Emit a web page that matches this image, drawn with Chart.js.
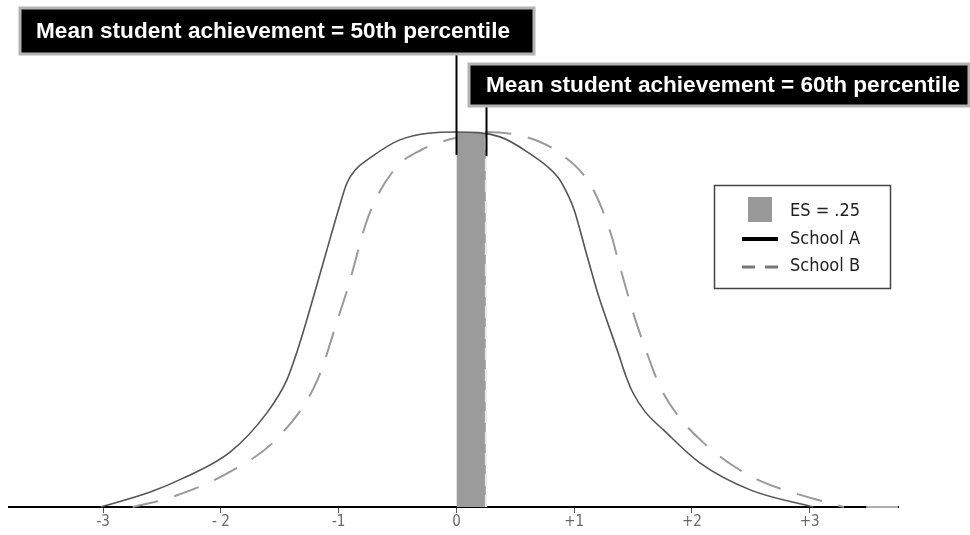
<!DOCTYPE html>
<html>
<head>
<meta charset="utf-8">
<script src="https://cdn.jsdelivr.net/npm/chart.js@4.4.1/dist/chart.umd.min.js"></script>
<style>
    html, body { margin: 0; padding: 0; background: #fff; }
</style>
</head>
<body>
<canvas id="myChart" width="970" height="535"></canvas>
<script>
// School A curve (solid), height, peak = 100
var schoolAx = [-3.02, -2.60, -2.32, -1.92, -1.61, -1.44, -1.35, -1.27, -1.18, -1.10, -1.01, -0.93, -0.85, -0.76, -0.48, 0,
                0.37, 0.60, 0.86, 0.93, 1.00, 1.10, 1.20, 1.28, 1.365, 1.45, 1.50, 1.60, 1.76, 2.07, 2.50, 3.03];
var schoolAy = [0, 4.0, 7.7, 14.7, 25.1, 33.9, 41.8, 50.0, 59.8, 68.6, 78.4, 86.4, 90.2, 92.5, 97.9, 100,
                98.7, 94.7, 88.0, 84.3, 79.2, 68.0, 57.0, 49.5, 41.9, 34.0, 30.4, 25.5, 20.5, 11.7, 4.5, 0];

// School B curve (dashed)
var schoolBx = [-2.75, -2.44, -1.94, -1.51, -1.18, -1.01, -0.92, -0.75, -0.53, -0.30, 0, 0.25,
                0.62, 0.875, 1.13, 1.24, 1.32, 1.38, 1.52, 1.63, 1.73, 1.89, 2.10, 2.34, 2.60, 2.87, 3.29];
var schoolBy = [0, 2.4, 9.1, 18.7, 33.9, 49.9, 58.7, 77.3, 89.9, 95.2, 98.5, 100,
                98.4, 94.4, 86.4, 79.2, 72.0, 65.0, 49.9, 40.0, 32.0, 24.0, 17.1, 11.2, 6.7, 3.7, 0];

// the ES band between the two means
var means = [0, 0.25];
var esTop = [100, 99.6];

var tickValues = [-3, -2, -1, 0, 1, 2, 3];
var tickLabels = ['-3', '- 2', '-1', '0', '+1', '+2', '+3'];

var seriesNames = ['ES = .25', 'School A', 'School B'];
var calloutTexts = ['Mean student achievement = 50th percentile', 'Mean student achievement = 60th percentile'];

function toPoints(xs, ys) {
    return xs.map(function (x, i) { return { x: x, y: ys[i] }; });
}

// black boxes with the percentile text, joined to the means
var callouts = {
    id: 'callouts',
    afterDraw: function (chart) {
        var ctx = chart.ctx;
        var xs = chart.scales.x;
        var boxes = [
            { x: 20, y: 8, w: 514, h: 46, tx: 36, lineEnd: 155 },
            { x: 469, y: 64, w: 500, h: 42, tx: 486, lineEnd: 156 }
        ];
        ctx.save();
        boxes.forEach(function (b, i) {
            var px = Math.round(xs.getPixelForValue(means[i])) + 0.5;
            ctx.strokeStyle = '#000';
            ctx.lineWidth = 2;
            ctx.beginPath();
            ctx.moveTo(px, b.y + b.h);
            ctx.lineTo(px, b.lineEnd);
            ctx.stroke();

            ctx.fillStyle = '#000';
            ctx.fillRect(b.x, b.y, b.w, b.h);
            ctx.strokeStyle = '#b3b3b3';
            ctx.lineWidth = 3;
            ctx.strokeRect(b.x, b.y, b.w, b.h);

            ctx.fillStyle = '#fff';
            ctx.font = 'bold 22.6px "Liberation Sans", Arial, sans-serif';
            ctx.textBaseline = 'middle';
            ctx.textAlign = 'left';
            ctx.fillText(calloutTexts[i], b.tx, b.y + b.h / 2 + 1);
        });

        // the axis line fades to grey past the last curve
        var y0 = chart.scales.y.getPixelForValue(0);
        ctx.strokeStyle = '#b0b0b0';
        ctx.lineWidth = 2;
        ctx.beginPath();
        ctx.moveTo(xs.getPixelForValue(3.48), y0);
        ctx.lineTo(xs.right, y0);
        ctx.stroke();
        ctx.restore();
    }
};

// legend box on the right
var legendBox = {
    id: 'legendBox',
    afterDraw: function (chart) {
        var ctx = chart.ctx;
        ctx.save();
        ctx.strokeStyle = '#444';
        ctx.lineWidth = 1.5;
        ctx.strokeRect(714.5, 185.5, 176, 103);

        ctx.fillStyle = '#999';
        ctx.fillRect(748, 197, 24, 25);

        ctx.strokeStyle = '#000';
        ctx.lineWidth = 4;
        ctx.beginPath();
        ctx.moveTo(742, 239);
        ctx.lineTo(778, 239);
        ctx.stroke();

        ctx.strokeStyle = '#777';
        ctx.lineWidth = 3;
        ctx.setLineDash([13, 10]);
        ctx.beginPath();
        ctx.moveTo(742, 267);
        ctx.lineTo(778, 267);
        ctx.stroke();
        ctx.setLineDash([]);

        ctx.fillStyle = '#222';
        ctx.font = '18px "DejaVu Sans Condensed", "DejaVu Sans", sans-serif';
        ctx.textBaseline = 'middle';
        ctx.fillText(seriesNames[0], 790, 211);
        ctx.fillText(seriesNames[1], 790, 239);
        ctx.fillText(seriesNames[2], 790, 266);
        ctx.restore();
    }
};

var ctx = document.getElementById('myChart').getContext('2d');
var myChart = new Chart(ctx, {
    type: 'line',
    data: {
        datasets: [
            {
                label: seriesNames[1],
                data: toPoints(schoolAx, schoolAy),
                borderColor: '#555',
                borderWidth: 1.6,
                cubicInterpolationMode: 'monotone',
                pointRadius: 0,
                fill: false,
                clip: false,
                order: 1
            },
            {
                label: seriesNames[2],
                data: toPoints(schoolBx, schoolBy),
                borderColor: '#9a9a9a',
                borderWidth: 2,
                borderDash: [26, 17],
                cubicInterpolationMode: 'monotone',
                pointRadius: 0,
                fill: false,
                clip: false,
                order: 2
            },
            {
                label: 'mean B',
                data: toPoints([means[1], means[1]], [0, esTop[1]]),
                borderColor: '#e8e8e8',
                borderWidth: 2,
                borderDash: [12, 9],
                pointRadius: 0,
                fill: false,
                order: 3
            },
            {
                label: seriesNames[0],
                data: toPoints(means, esTop),
                borderWidth: 0,
                borderColor: 'rgba(0,0,0,0)',
                backgroundColor: '#9b9b9b',
                pointRadius: 0,
                fill: 'origin',
                order: 4
            }
        ]
    },
    options: {
        responsive: false,
        animation: false,
        devicePixelRatio: 1,
        layout: { padding: { top: 132, left: 9, right: 72, bottom: 3 } },
        plugins: {
            legend: { display: false },
            tooltip: { enabled: false }
        },
        scales: {
            x: {
                type: 'linear',
                min: -3.8,
                max: 3.75,
                afterBuildTicks: function (scale) {
                    scale.ticks = tickValues.map(function (v) { return { value: v }; });
                },
                border: { color: '#000', width: 2 },
                grid: { drawOnChartArea: false, tickLength: 6, tickColor: '#555', lineWidth: 1 },
                ticks: {
                    padding: 2,
                    color: '#666',
                    font: { family: '"Liberation Sans Narrow", "DejaVu Sans Condensed", sans-serif', size: 15, lineHeight: 1 },
                    callback: function (val, i) { return tickLabels[i]; }
                }
            },
            y: {
                display: false,
                min: 0,
                max: 100
            }
        }
    },
    plugins: [callouts, legendBox]
});
</script>
</body>
</html>
